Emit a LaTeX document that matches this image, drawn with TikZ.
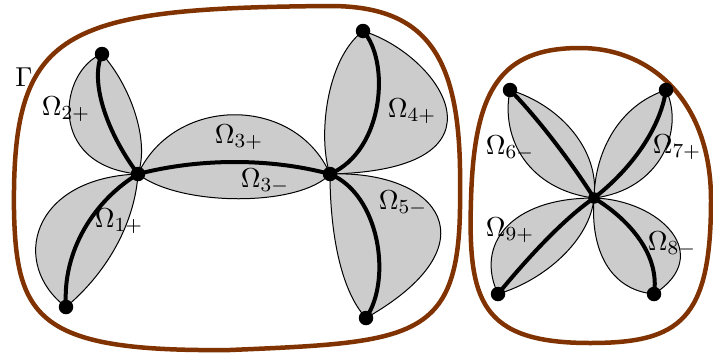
\documentclass[tikz,border=0pt]{standalone}
\usepackage{tikz}
\usetikzlibrary{calc}
\usepackage{xcolor}
\definecolor{leafgray}{HTML}{CCCCCC}
\definecolor{rim}{HTML}{803300}
\tikzset{
  leaf/.style={draw=black, line width=0.4pt, fill=leafgray},
  curve/.style={draw=black, line width=1.6pt},
  boundary/.style={draw=rim, line width=1.8pt},
  dot/.style={circle, fill=black, inner sep=0pt, minimum size=5.8pt},
  lbl/.style={inner sep=0pt, font=\fontsize{11}{13}\selectfont}
}

\begin{document}
\begin{tikzpicture}[x=0.4pt, y=-0.4pt]
  \useasboundingbox (0,0) rectangle (713,354);
  % vertices
  \coordinate (A) at (138,174);
  \coordinate (B) at (330,174);
  \coordinate (C) at (594,198);
  \coordinate (P1) at (66,307);
  \coordinate (P2) at (102,54);
  \coordinate (P4) at (363,31);
  \coordinate (P5) at (366,318);
  \coordinate (P6) at (510,90);
  \coordinate (P7) at (666,90);
  \coordinate (P8) at (654,294);
  \coordinate (P9) at (498,294);

  % contours
  \draw[boundary] (14,210) .. controls (12,30) and (60,8) .. (330,6)
    .. controls (430,6) and (462,60) .. (460,190)
    .. controls (462,340) and (420,342) .. (230,350)
    .. controls (40,352) and (16,320) .. cycle;
  \draw[boundary] (471,200) .. controls (474,90) and (500,48) .. (580,48)
    .. controls (650,48) and (711,100) .. (711,200)
    .. controls (711,320) and (680,343) .. (590,343)
    .. controls (480,343) and (468,300) .. cycle;

  % lenses
  \filldraw[leaf] (P2) .. controls (60,70) and (45,165) .. (A) .. controls (150,140) and (130,85) .. (P2);
  \filldraw[leaf] (A) .. controls (30,178) and (10,265) .. (P1) .. controls (110,270) and (135,220) .. (A);
  \filldraw[leaf] (A) .. controls (175,95) and (295,95) .. (B) .. controls (300,207) and (180,207) .. (A);
  \filldraw[leaf] (P4) .. controls (440,55) and (520,170) .. (B) .. controls (318,140) and (325,60) .. (P4);
  \filldraw[leaf] (B) .. controls (440,170) and (495,245) .. (P5) .. controls (340,290) and (330,230) .. (B);
  \filldraw[leaf] (P6) .. controls (500,140) and (530,190) .. (C) .. controls (600,150) and (560,105) .. (P6);
  \filldraw[leaf] (P7) .. controls (685,130) and (660,190) .. (C) .. controls (595,150) and (620,105) .. (P7);
  \filldraw[leaf] (C) .. controls (510,198) and (475,245) .. (P9) .. controls (545,280) and (590,240) .. (C);
  \filldraw[leaf] (C) .. controls (660,200) and (715,255) .. (P8) .. controls (610,290) and (590,250) .. (C);

  % arcs
  \draw[curve] (A) .. controls (105,130) and (90,80) .. (P2);
  \draw[curve] (A) .. controls (95,200) and (62,250) .. (P1);
  \draw[curve] (A) .. controls (200,158) and (270,158) .. (B);
  \draw[curve] (B) .. controls (385,150) and (390,60) .. (P4);
  \draw[curve] (B) .. controls (380,195) and (392,280) .. (P5);
  \draw[curve] (C) .. controls (570,160) and (535,115) .. (P6);
  \draw[curve] (C) .. controls (630,170) and (660,130) .. (P7);
  \draw[curve] (C) .. controls (565,218) and (530,255) .. (P9);
  \draw[curve] (C) .. controls (630,220) and (660,255) .. (P8);

  \foreach \p in {A,B,P1,P2,P4,P5,P6,P7,P8,P9}
    \node[dot] (d\p) at (\p) {};
  \node[dot, minimum size=4.6pt] (dC) at (C) {};

  % labels
  \node[lbl] (gamma) at (24,77) {$\Gamma$};
  \node[lbl] (o1) at (119,221) {$\Omega_{1+}$};
  \node[lbl] (o2) at (66,109) {$\Omega_{2+}$};
  \node[lbl] (o3p) at (239,137) {$\Omega_{3+}$};
  \node[lbl] (o3m) at (265,181) {$\Omega_{3-}$};
  \node[lbl] (o4) at (412,111) {$\Omega_{4+}$};
  \node[lbl] (o5) at (403,203) {$\Omega_{5-}$};
  \node[lbl] (o6) at (510,148) {$\Omega_{6-}$};
  \node[lbl] (o7) at (677,147) {$\Omega_{7+}$};
  \node[lbl] (o8) at (672,244) {$\Omega_{8-}$};
  \node[lbl] (o9) at (510,230) {$\Omega_{9+}$};
\end{tikzpicture}
\end{document}
